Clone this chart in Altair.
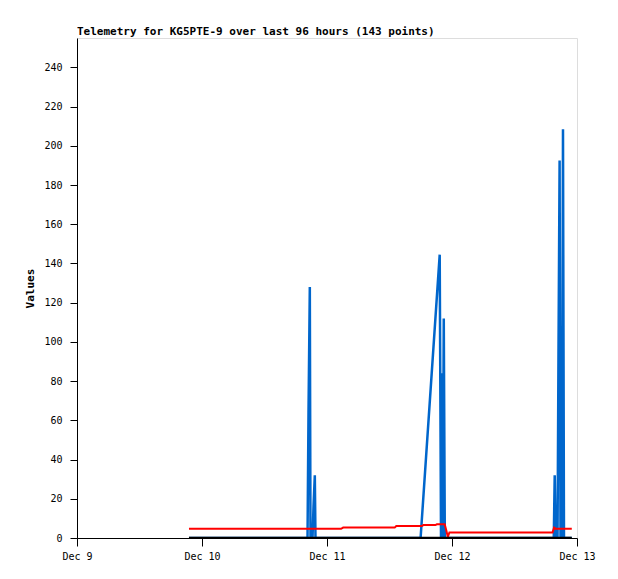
import altair as alt
import pandas as pd

# Hours since Dec 9 00:00
blue_hours = [21.5, 44.26, 44.45, 44.70, 44.83, 45.22, 45.41, 45.66, 45.79,
              65.97, 69.64, 69.89, 70.04, 70.23, 70.42, 70.62,
              91.54, 91.72, 91.91, 92.26, 92.45, 92.66, 92.83, 92.93, 93.12, 93.31, 93.50, 95.0]
blue_vals = [0, 0, 64, 128, 0, 0, 16, 32, 0,
             0, 144.5, 0, 84, 0, 112, 0,
             0, 32, 0, 0, 97, 192.5, 0, 104.7, 0, 208.4, 0, 0]

red_hours = [21.5, 50.7, 51.1, 61.0, 61.3, 66.2, 66.5, 68.8, 69.1, 70.6, 70.9, 71.2, 71.5,
             91.3, 91.6, 91.9, 92.2, 95.0]
red_vals = [4.7, 4.7, 5.3, 5.3, 6.1, 6.1, 6.6, 6.6, 7.0, 7.0, 4.0, 0.5, 2.8,
            2.8, 5.3, 4.7, 4.7, 4.7]

black_hours = [21.5, 95.0]
black_vals = [0, 0]

tick_hours = [0, 24, 48, 72, 96]
tick_labels = ["Dec 9", "Dec 10", "Dec 11", "Dec 12", "Dec 13"]
y_ticks = list(range(0, 241, 20))

series_names = ["blue", "red", "black"]
series_colors = ["#0066cc", "#ff0000", "#000000"]
series_widths = [2.5, 2, 2.5]

rows = []
for order, (name, hs, vs) in enumerate([("blue", blue_hours, blue_vals),
                                         ("red", red_hours, red_vals),
                                         ("black", black_hours, black_vals)]):
    for i, (h, v) in enumerate(zip(hs, vs)):
        rows.append({"series": name, "hour": h, "value": v, "idx": i, "layer": order})
df = pd.DataFrame(rows)

label_expr = " : ".join(
    f"datum.value == {h} ? '{l}'" for h, l in zip(tick_hours, tick_labels)
) + " : ''"

FONT = "DejaVu Sans Mono"

x_enc = alt.X("hour:Q", scale=alt.Scale(domain=[0, 96], nice=False, zero=False),
              axis=alt.Axis(values=tick_hours, labelExpr=label_expr, title=None,
                            tickSize=8, labelPadding=5, grid=False, labelFlush=False,
                            labelFontSize=10, labelFont=FONT, labelColor="black",
                            domainColor="black", tickColor="black"))
y_enc = alt.Y("value:Q", scale=alt.Scale(domain=[0, 255], nice=False),
              axis=alt.Axis(values=y_ticks, title="Values", tickSize=7, labelPadding=8,
                            grid=False, labelFontSize=10, labelFont=FONT, labelColor="black",
                            titleFont=FONT, titleFontSize=11, titleFontWeight="bold",
                            titlePadding=8, titleColor="black",
                            domainColor="black", tickColor="black"))

layers = []
for name, col, w in zip(series_names, series_colors, series_widths):
    layers.append(
        alt.Chart(df).transform_filter(alt.datum.series == name)
        .mark_line(color=col, strokeWidth=w, interpolate="linear", clip=True)
        .encode(x=x_enc, y=y_enc, order="idx:Q")
    )

chart = alt.layer(*layers).properties(
    width=500, height=500,
    title=alt.TitleParams("Telemetry for KG5PTE-9 over last 96 hours (143 points)",
                          anchor="start", frame="group", font=FONT, fontSize=11,
                          fontWeight="bold", color="black", offset=1),
    autosize=alt.AutoSizeParams(type="none"),
    padding={"left": 69, "top": 30, "right": 33, "bottom": 33},
).configure_view(stroke="#555555", strokeWidth=1).configure(background="white")

chart.save("out.html", embed_options={"renderer": "svg", "actions": False})
